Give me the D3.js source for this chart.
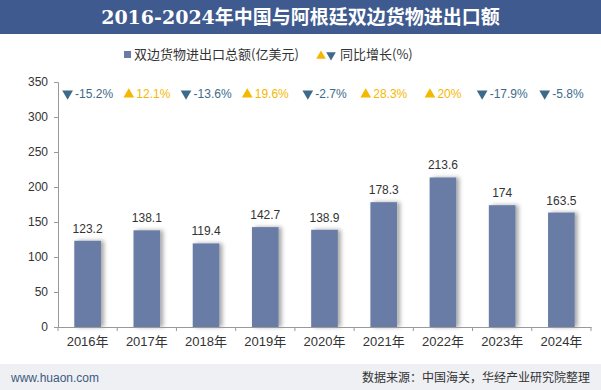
<!DOCTYPE html>
<html lang="zh">
<head>
  <meta charset="utf-8">
  <title>2016-2024年中国与阿根廷双边货物进出口额</title>
  <script src="https://cdn.jsdelivr.net/npm/d3@7"></script>
  <style>
    body { margin: 0; background: #fff; }
    text { font-family: "Liberation Sans", "Noto Sans CJK SC", sans-serif; }
  </style>
</head>
<body>
  <script>
    // data
    var years = ["2016年", "2017年", "2018年", "2019年", "2020年", "2021年", "2022年", "2023年", "2024年"];
    var totals = [123.2, 138.1, 119.4, 142.7, 138.9, 178.3, 213.6, 174, 163.5];
    var growth = ["-15.2", "12.1", "-13.6", "19.6", "-2.7", "28.3", "20", "-17.9", "-5.8"];
    var yTicks = [0, 50, 100, 150, 200, 250, 300, 350];

    var width = 601, height = 390;
    var svg = d3.select("body").append("svg")
      .attr("width", width)
      .attr("height", height);

    var defs = svg.append("defs");
    var f = defs.append("filter").attr("id", "sh").attr("x", "-20%").attr("width", "160%");
    f.append("feDropShadow").attr("dx", 3).attr("dy", 0).attr("stdDeviation", 2)
      .attr("flood-color", "#000").attr("flood-opacity", 0.35);

    // title bar
    svg.append("rect").attr("x", 0).attr("y", 0).attr("width", width).attr("height", 34)
      .attr("fill", "#3e5a8e");
    svg.append("text").attr("x", width / 2).attr("y", 24)
      .attr("text-anchor", "middle").attr("fill", "#fff")
      .style("font-family", "'DejaVu Serif', 'Noto Sans CJK SC', serif")
      .style("font-size", "19px").style("font-weight", "bold")
      .text("2016-2024年中国与阿根廷双边货物进出口额");

    // footer
    svg.append("rect").attr("x", 0).attr("y", 364).attr("width", width).attr("height", 26)
      .attr("fill", "#eef0f4");
    svg.append("text").attr("x", 11).attr("y", 382)
      .attr("fill", "#3d5a7e").style("font-size", "12px").text("www.huaon.com");
    svg.append("text").attr("x", 590).attr("y", 382).attr("text-anchor", "end")
      .attr("fill", "#333").style("font-family", "'Noto Sans CJK SC', sans-serif")
      .style("font-size", "12px").text("数据来源：中国海关，华经产业研究院整理");

    // legend
    var lg = svg.append("g");
    lg.append("rect").attr("x", 124).attr("y", 51).attr("width", 7).attr("height", 7).attr("fill", "#687ca5");
    lg.append("text").attr("x", 134).attr("y", 59).attr("fill", "#333")
      .style("font-family", "'Noto Sans CJK SC', sans-serif").style("font-size", "13px")
      .text("双边货物进出口总额(亿美元)");
    lg.append("path").attr("d", d3.symbol(d3.symbolTriangle, 40)()).attr("transform", "translate(321,56)").attr("fill", "#f5b800");
    lg.append("path").attr("d", d3.symbol(d3.symbolTriangle, 40)()).attr("transform", "translate(331,55) rotate(180)").attr("fill", "#3d6a8a");
    lg.append("text").attr("x", 340).attr("y", 59).attr("fill", "#333")
      .style("font-family", "'Noto Sans CJK SC', sans-serif").style("font-size", "13px")
      .text("同比增长(%)");

    // scales
    var x = d3.scaleBand().domain(years).range([58, 591]).paddingInner(0.55).paddingOuter(0.275);
    var y = d3.scaleLinear().domain([0, 350]).range([327, 82]);

    var yAxis = svg.append("g").attr("transform", "translate(58,0)")
      .call(d3.axisLeft(y).tickValues(yTicks).tickSize(4).tickPadding(6));
    yAxis.select(".domain").attr("stroke", "#999");
    yAxis.selectAll(".tick line").attr("stroke", "#999");
    yAxis.selectAll("text").attr("fill", "#333").style("font-size", "12px");

    // bars
    svg.append("g").selectAll("rect")
      .data(totals)
      .enter().append("rect")
      .attr("x", function (d, i) { return x(years[i]); })
      .attr("y", function (d) { return y(d); })
      .attr("width", x.bandwidth())
      .attr("height", function (d) { return y(0) - y(d); })
      .attr("fill", "#687ca5")
      .attr("filter", "url(#sh)");

    svg.append("g").selectAll("text")
      .data(totals)
      .enter().append("text")
      .attr("x", function (d, i) { return x(years[i]) + x.bandwidth() / 2; })
      .attr("y", function (d) { return y(d) - 8; })
      .attr("text-anchor", "middle").attr("fill", "#333")
      .style("font-size", "12px")
      .text(function (d) { return d; });

    // x axis
    var xAxis = svg.append("g").attr("transform", "translate(0,327)")
      .call(d3.axisBottom(x).tickSize(0).tickPadding(10));
    xAxis.select(".domain").attr("stroke", "#999");
    xAxis.selectAll("text").attr("fill", "#333")
      .style("font-family", "'Liberation Sans', 'Noto Sans CJK SC', sans-serif").style("font-size", "13px");
    var step = x.step();
    xAxis.selectAll(".sep").data(d3.range(years.length + 1)).enter().append("line")
      .attr("x1", function (i) { return 58 + i * step; })
      .attr("x2", function (i) { return 58 + i * step; })
      .attr("y1", 0).attr("y2", 4).attr("stroke", "#999");

    // growth labels
    var gl = svg.append("g").selectAll("g")
      .data(growth)
      .enter().append("g")
      .attr("transform", function (d, i) { return "translate(" + (x(years[i]) + x.bandwidth() / 2) + ",93)"; });
    gl.each(function (d) {
      var g = d3.select(this);
      var up = +d >= 0;
      var col = up ? "#f5b800" : "#3d6a8a";
      var t = g.append("text").attr("y", 5).attr("fill", col)
        .style("font-size", "12px").text(d + "%");
      var w = t.node().getComputedTextLength() + 13;
      t.attr("x", -w / 2 + 13);
      g.append("path").attr("d", d3.symbol(d3.symbolTriangle, 50)())
        .attr("transform", "translate(" + (-w / 2 + 5.5) + "," + (up ? 1.5 : 0.5) + ")" + (up ? "" : " rotate(180)"))
        .attr("fill", col);
    });
  </script>
</body>
</html>
